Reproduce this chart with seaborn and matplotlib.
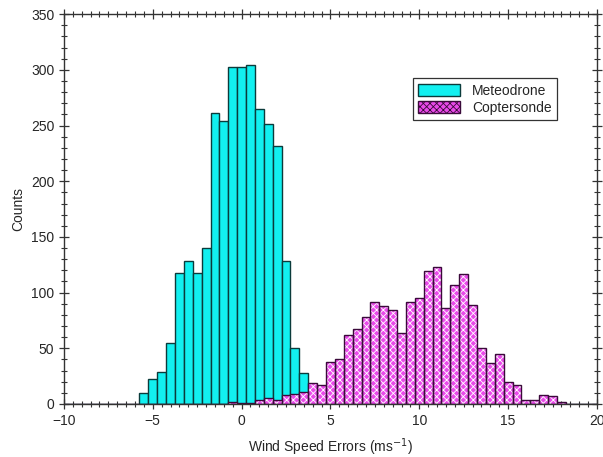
import numpy as np
import pandas as pd
import seaborn as sns
import matplotlib
matplotlib.use("Agg")
import matplotlib.pyplot as plt
from matplotlib.ticker import MultipleLocator
from matplotlib.patches import Patch

# ---- data (bin centres, 0.5 m/s wide bins) ----
meteo_centers = [-5.5, -5.0, -4.5, -4.0, -3.5, -3.0, -2.5, -2.0, -1.5, -1.0,
                 -0.5, 0.0, 0.5, 1.0, 1.5, 2.0, 2.5, 3.0, 3.5]
meteo_counts = [10, 22, 29, 55, 118, 128, 118, 140, 261, 254,
                303, 303, 304, 265, 251, 232, 128, 50, 28]

copter_centers = [-0.5, 0.0, 0.5, 1.0, 1.5, 2.0, 2.5, 3.0, 3.5, 4.0,
                  4.5, 5.0, 5.5, 6.0, 6.5, 7.0, 7.5, 8.0, 8.5, 9.0,
                  9.5, 10.0, 10.5, 11.0, 11.5, 12.0, 12.5, 13.0, 13.5, 14.0,
                  14.5, 15.0, 15.5, 16.0, 16.5, 17.0, 17.5, 18.0]
copter_counts = [2, 1, 1, 4, 5, 4, 8, 9, 11, 19,
                 17, 38, 40, 62, 67, 78, 92, 88, 84, 64,
                 92, 95, 119, 123, 86, 107, 117, 89, 50, 37,
                 45, 20, 17, 4, 4, 8, 7, 2]

series_names = ["Meteodrone", "Coptersonde"]
x_label = "Wind Speed Errors (ms$^{-1}$)"
y_label = "Counts"

bin_edges = [float(b) for b in np.arange(-10.25, 20.26, 0.5)]

sns.set_style("ticks")
plt.rcParams["font.family"] = ["Liberation Sans", "DejaVu Sans"]
plt.rcParams["hatch.linewidth"] = 0.6
plt.rcParams["hatch.color"] = "white"

cyan = "#12f0f0"
cyan_edge = "#0b3b3b"
mag = "#ea4aea"
mag_edge = "#3a0a3a"

fig = plt.figure(figsize=(6.03, 4.57), dpi=100)
ax = fig.add_axes([0.106, 0.116, 0.884, 0.853])

df_m = pd.DataFrame({"x": meteo_centers, "w": meteo_counts})
df_c = pd.DataFrame({"x": copter_centers, "w": copter_counts})

sns.histplot(data=df_m, x="x", weights="w", bins=bin_edges, ax=ax,
             color=cyan, alpha=1, edgecolor=cyan_edge, linewidth=1.0)

# coptersonde: hatched fill layer then outline layer
sns.histplot(data=df_c, x="x", weights="w", bins=bin_edges, ax=ax,
             color=mag, alpha=1, edgecolor="white", linewidth=0, hatch="xxxxx")
sns.histplot(data=df_c, x="x", weights="w", bins=bin_edges, ax=ax,
             fill=False, color=mag_edge, edgecolor=mag_edge, linewidth=1.0)

ax.set_xlim(-10, 20)
ax.set_ylim(0, 350)
ax.xaxis.set_major_locator(MultipleLocator(5))
ax.xaxis.set_minor_locator(MultipleLocator(0.5))
ax.yaxis.set_major_locator(MultipleLocator(50))
ax.yaxis.set_minor_locator(MultipleLocator(10))
ax.tick_params(which="both", top=True, right=True, direction="inout",
               labelsize=10, color="#333333")
ax.tick_params(which="major", length=7, width=0.9)
ax.tick_params(which="minor", length=4, width=0.8)
for s in ax.spines.values():
    s.set_color("#333333")
    s.set_linewidth(1.0)

ax.set_xlabel(x_label, fontsize=10, labelpad=6)
ax.set_ylabel(y_label, fontsize=10, labelpad=4)

handles = [Patch(facecolor=cyan, edgecolor=cyan_edge, label=series_names[0]),
           Patch(facecolor=mag, edgecolor=mag_edge, hatch="xxxxx", label=series_names[1])]
leg = ax.legend(handles=handles, loc="upper left", bbox_to_anchor=(0.641, 0.853),
                fancybox=False, framealpha=1, edgecolor="#333333", fontsize=10,
                handlelength=3.0, handleheight=0.9, borderpad=0.4, labelspacing=0.2,
                handletextpad=0.9)
leg.get_frame().set_linewidth(0.9)

fig.savefig("out.png", dpi=100)
